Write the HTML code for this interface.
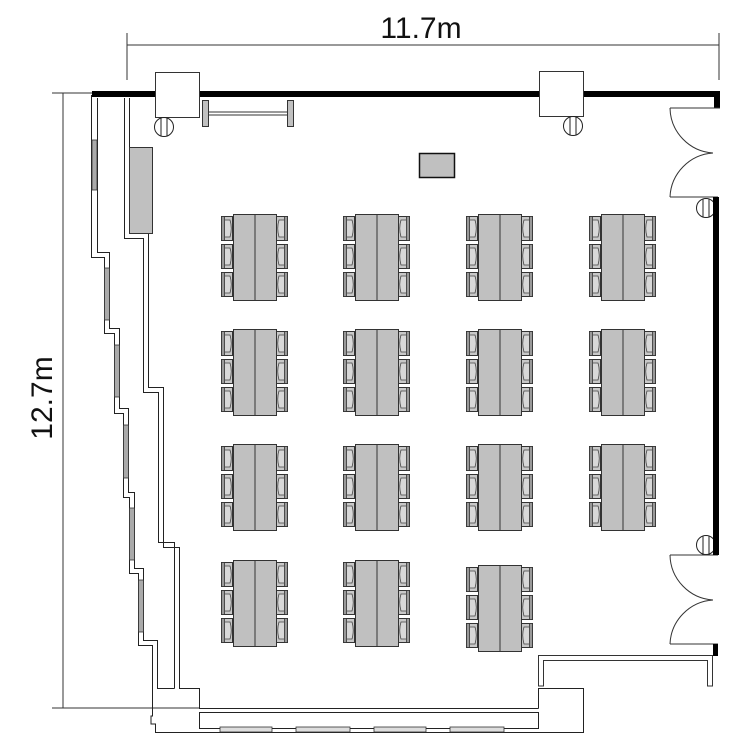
<!DOCTYPE html>
<html><head><meta charset="utf-8"><style>
html,body{margin:0;padding:0;background:#fff;}
svg{display:block;}
text{font-family:"Liberation Sans",sans-serif;}
</style></head><body>
<svg width="750" height="750" viewBox="0 0 750 750" xmlns="http://www.w3.org/2000/svg">
<defs>
<g id="ch">
  <rect x="0.5" y="0.5" width="11" height="24" fill="#c8c8c8" stroke="#333" stroke-width="1"/>
  <rect x="0.5" y="0.5" width="3" height="24" fill="#999" stroke="#333" stroke-width="0.8"/>
  <path d="M4 4 H9 Q11.5 12 9 21 H4" fill="#d8d8d8" stroke="#444" stroke-width="0.8"/>
</g>
<g id="tb">
  <use href="#ch" x="0" y="2"/>
  <use href="#ch" x="0" y="30"/>
  <use href="#ch" x="0" y="58"/>
  <use href="#ch" transform="translate(67,2) scale(-1,1)"/>
  <use href="#ch" transform="translate(67,30) scale(-1,1)"/>
  <use href="#ch" transform="translate(67,58) scale(-1,1)"/>
  <rect x="12.5" y="0.5" width="43" height="86" fill="#c0c0c0" stroke="#333" stroke-width="1"/>
  <line x1="34" y1="0.5" x2="34" y2="86.5" stroke="#333" stroke-width="1"/>
</g>
</defs>

<!-- dimensions -->
<g stroke="#333" stroke-width="1" fill="none">
  <line x1="127" y1="45" x2="719" y2="45"/>
  <line x1="127" y1="33" x2="127" y2="80"/>
  <line x1="719" y1="33" x2="719" y2="80"/>
  <line x1="63" y1="93" x2="63" y2="708"/>
  <line x1="52" y1="93" x2="92" y2="93"/>
  <line x1="52" y1="708" x2="199" y2="708"/>
</g>
<text x="421" y="38" font-size="30" text-anchor="middle" fill="#111">11.7m</text>
<text transform="translate(52,398) rotate(-90)" font-size="30" text-anchor="middle" fill="#111">12.7m</text>

<!-- top wall -->
<rect x="92" y="91" width="628" height="6" fill="#000"/>
<rect x="714" y="91" width="6" height="17" fill="#000"/>
<g fill="#fff" stroke="#333" stroke-width="1">
  <rect x="155.5" y="72.5" width="44" height="45"/>
  <rect x="539.5" y="71.5" width="44" height="45"/>
</g>
<!-- columns circles -->
<g stroke="#222" stroke-width="1" fill="#fff">
  <circle cx="164" cy="127" r="9.5"/>
  <circle cx="573" cy="126" r="9.5"/>
  <circle cx="706" cy="208" r="9.5"/>
  <circle cx="706" cy="545" r="9.5"/>
  <path d="M161 118v18M167 118v18M570 117v18M576 117v18M703 199v18M709 199v18M703 536v18M709 536v18"/>
</g>
<!-- bar -->
<g fill="#c0c0c0" stroke="#333" stroke-width="1">
  <rect x="202.5" y="100.5" width="6" height="26"/>
  <rect x="287.5" y="100.5" width="6" height="26"/>
  <rect x="208.5" y="112" width="79" height="3" fill="#fff"/>
</g>

<!-- right wall & doors -->
<g stroke="#333" stroke-width="1" fill="none">
  <line x1="670" y1="108" x2="720" y2="108"/>
  <path d="M670 108 A46 46 0 0 0 713 153 M713 153 A46 46 0 0 0 670 197"/>
  <line x1="670" y1="197" x2="718" y2="197"/>
  <line x1="670" y1="555" x2="718" y2="555"/>
  <path d="M670 555 A46 46 0 0 0 713 600 M713 600 A46 46 0 0 0 670 644"/>
  <line x1="670" y1="644" x2="718" y2="644"/>
</g>
<rect x="713" y="197" width="6" height="358" fill="#000"/>
<rect x="713" y="644" width="5" height="12" fill="#000"/>

<!-- right bottom frame -->
<g stroke="#333" stroke-width="1" fill="none">
  <path d="M538.5 686 V655.5 H712.5 V686 H707.5 V660.5 H543.5 V686 Z"/>
</g>

<!-- left walls -->
<g stroke="#222" stroke-width="1" fill="none">
  <path d="M91.5 95 V257.5 H104.5 V333.5 H114.5 V413.5 H123.5 V497.5 H129.5 V573.5 H138.5 V645.5 H152.5 V716 H151 V724 H155.5 V732.5 H583.5 V688.5 H538.5 V708.5"/>
  <path d="M97.5 98 V252.5 H109.5 V328.5 H119.5 V408.5 H128.5 V492.5 H134.5 V568.5 H143.5 V640.5 H157.5 V688.5 H174.5"/>
  <path d="M124.5 98 V238.5 H143.5 V392.5 H158.5 V542.5 H174.5 V688.5"/>
  <path d="M129.5 98 V233.5 H148.5 V387.5 H163.5 V547.5 H179.5 V688.5 H199.5 V708.5 H538.5"/>
  <rect x="199.5" y="712.5" width="339" height="16"/>
</g>
<!-- windows left -->
<g fill="#aaa" stroke="#333" stroke-width="0.8">
  <rect x="92" y="140" width="5" height="50"/>
  <rect x="104.5" y="268" width="5" height="52"/>
  <rect x="114.5" y="345" width="5" height="52"/>
  <rect x="123.5" y="425" width="5" height="53"/>
  <rect x="129.5" y="508" width="5" height="52"/>
  <rect x="138.5" y="580" width="5" height="52"/>
</g>
<!-- windows bottom -->
<g fill="#ddd" stroke="#333" stroke-width="0.8">
  <rect x="220" y="727" width="52" height="5"/>
  <rect x="296" y="727" width="54" height="5"/>
  <rect x="374" y="727" width="52" height="5"/>
  <rect x="450" y="727" width="54" height="5"/>
</g>

<!-- gray items -->
<rect x="129.5" y="147.5" width="23" height="86" fill="#c0c0c0" stroke="#333"/>
<rect x="419.5" y="153.5" width="35" height="24" fill="#c0c0c0" stroke="#111" stroke-width="1.5"/>

<!-- tables -->
<use href="#tb" x="221" y="214"/>
<use href="#tb" x="343" y="214"/>
<use href="#tb" x="466" y="214"/>
<use href="#tb" x="589" y="214"/>
<use href="#tb" x="221" y="329"/>
<use href="#tb" x="343" y="329"/>
<use href="#tb" x="466" y="329"/>
<use href="#tb" x="589" y="329"/>
<use href="#tb" x="221" y="444"/>
<use href="#tb" x="343" y="444"/>
<use href="#tb" x="466" y="444"/>
<use href="#tb" x="589" y="444"/>
<use href="#tb" x="221" y="560"/>
<use href="#tb" x="343" y="560"/>
<use href="#tb" x="466" y="565"/>
</svg>
</body></html>
